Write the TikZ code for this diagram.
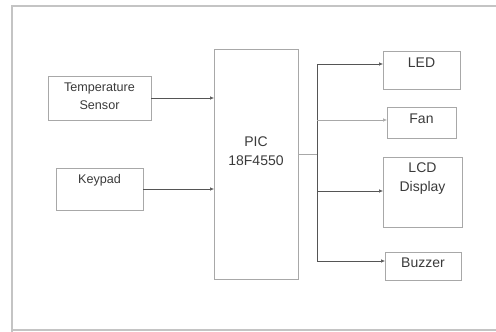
\documentclass[tikz,border=0pt]{standalone}
\usepackage{fontspec}
\setmainfont{Liberation Sans}
\usetikzlibrary{arrows.meta}
\definecolor{framegray}{HTML}{C4C4C4}
\definecolor{boxgray}{HTML}{A8A8A8}
\definecolor{linegray}{HTML}{555555}
\definecolor{txtgray}{HTML}{3A3A3A}
\begin{document}
\begin{tikzpicture}[x=1pt,y=-1pt,
  box/.style={draw=boxgray, line width=0.9pt, inner sep=0pt, outer sep=0pt},
  lbl/.style={text=txtgray, align=center, inner sep=0pt, font=\fontsize{14}{19}\selectfont},
  lbls/.style={text=txtgray, align=center, inner sep=0pt, font=\fontsize{12.6}{18}\selectfont},
  conn/.style={draw=linegray, line width=0.6pt, -{Latex[length=4pt,width=3.6pt]}},
  wire/.style={draw=linegray, line width=0.6pt}]
\useasboundingbox (0,0) rectangle (496,332);
% outer frame
\draw[framegray, line width=1.5pt] (12,332) -- (12,6) -- (497,6);
\draw[framegray, line width=1.5pt] (12,330) -- (497,330);
% boxes
\node[box, minimum width=103pt, minimum height=44pt] (temp) at (99.5,98) {};
\node[box, minimum width=87pt, minimum height=42pt] (key) at (99.5,189) {};
\node[box, minimum width=84pt, minimum height=230pt] (pic) at (256,164) {};
\node[box, minimum width=77pt, minimum height=38pt] (led) at (421.5,70) {};
\node[box, minimum width=69pt, minimum height=31pt] (fan) at (421.5,122.5) {};
\node[box, minimum width=79pt, minimum height=70pt] (lcd) at (422.5,192) {};
\node[box, minimum width=76pt, minimum height=28pt] (buz) at (423,266) {};
% labels
\node[lbls] (tempt) at (99.5,96) {Temperature\\Sensor};
\node[lbls] (keyt) at (99.5,180) {Keypad};
\node[lbl] (pict) at (256,151.5) {PIC\\18F4550};
\node[lbl] (ledt) at (421.5,63) {LED};
\node[lbl] (fant) at (421.5,119) {Fan};
\node[lbl] (lcdt) at (422.5,178.5) {LCD\\Display};
\node[lbl] (buzt) at (423,263) {Buzzer};
% connectors
\draw[conn] (temp.east) -- (temp.east -| pic.west);
\draw[conn] (key.east) -- (key.east -| pic.west);
\coordinate (busmid) at (317,154);
\coordinate (bustop) at (317,64);
\coordinate (busfan) at (317,120);
\coordinate (buslcd) at (317,191);
\coordinate (busbot) at (317,261);
\draw[wire, draw=boxgray] (busmid -| pic.east) -- (busmid);
\draw[wire] (bustop) -- (busbot);
\draw[conn] (bustop) -- (bustop -| led.west);
\draw[conn, draw=boxgray] (busfan) -- (busfan -| fan.west);
\draw[conn] (buslcd) -- (buslcd -| lcd.west);
\draw[conn] (busbot) -- (busbot -| buz.west);
\end{tikzpicture}
\end{document}
